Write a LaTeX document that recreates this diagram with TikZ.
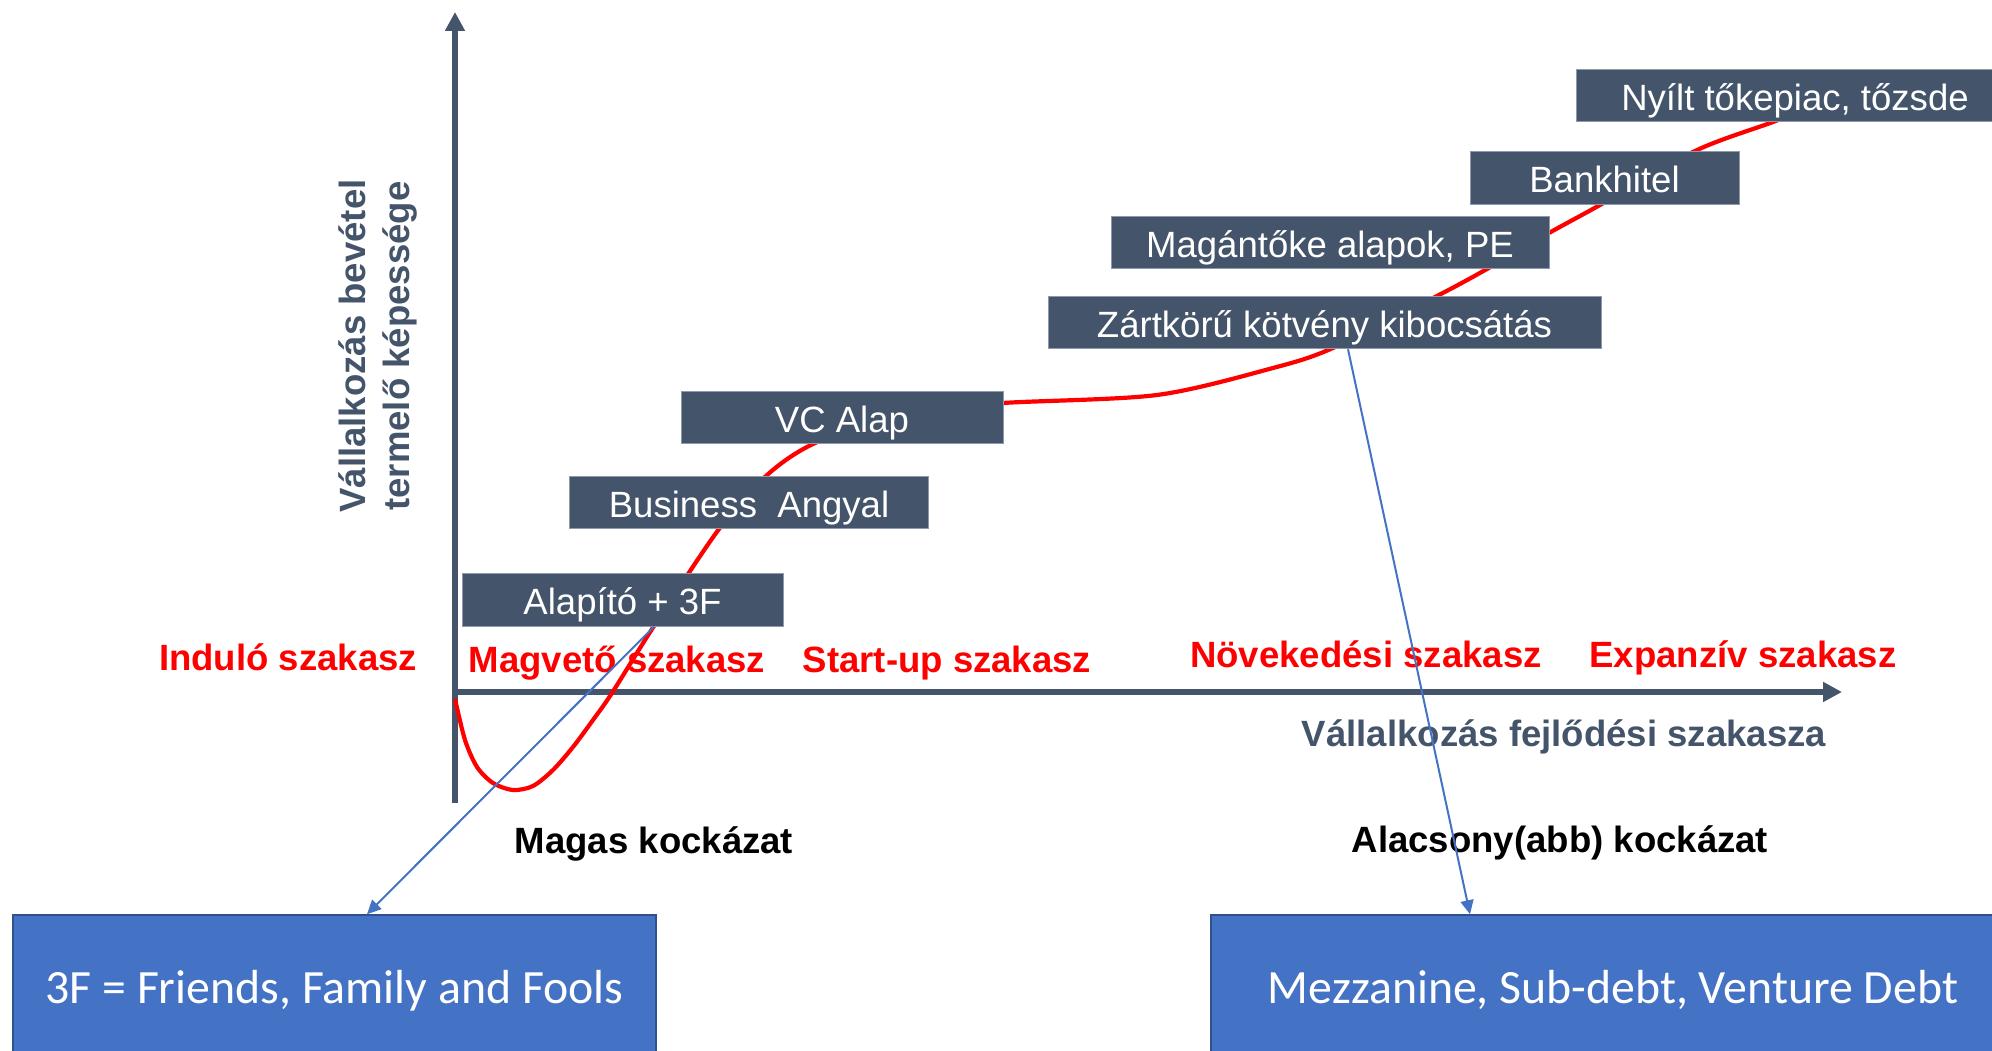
\documentclass[tikz,border=0pt]{standalone}
\usepackage{fontspec}
\setmainfont{Liberation Sans}
\newfontfamily\calibrifont{Carlito}
\usetikzlibrary{arrows.meta}
\definecolor{slate}{HTML}{44546A}
\definecolor{slateline}{HTML}{8E99AB}
\definecolor{offblue}{HTML}{4472C4}
\definecolor{offblueline}{HTML}{2F528F}
\definecolor{stagered}{HTML}{FF0000}

\begin{document}
\begin{tikzpicture}[x=0.1mm, y=-0.1mm,
	axis/.style={slate, line width=0.6mm, -{Triangle[length=1.9mm, width=1.9mm]}},
	source/.style={fill=slate, draw=slateline, line width=0.1mm, text=white, inner sep=0pt, minimum height=5.25mm, text height=8.5pt, text depth=0.2pt, font=\fontsize{10.4}{12.5}\selectfont},
	note/.style={fill=offblue, draw=offblueline, line width=0.15mm, text=white, inner sep=0pt, minimum height=14mm, text height=11pt, text depth=0.2pt, font=\calibrifont\fontsize{13.6}{16}\selectfont},
	stage/.style={anchor=base, text=stagered, font=\bfseries\fontsize{10.4}{12.5}\selectfont},
	risk/.style={anchor=base, font=\bfseries\fontsize{10.4}{12.5}\selectfont},
	link/.style={offblue, line width=0.2mm, -{Triangle[length=1.4mm, width=1.3mm]}}]
	\useasboundingbox (0,0) rectangle (1992,1051);
	
	%axes
	\coordinate (ybot) at (455,803);
	\coordinate (ytop) at (455,12);
	\coordinate (orig) at (455,692);
	\coordinate (xend) at (1842,692);
	\draw[axis] (ybot) -- (ytop);
	\draw[axis] (orig) -- (xend);
	\node[rotate=90, align=center, text=slate, font=\bfseries\fontsize{10.4}{12.6}\selectfont] (ylabel) at (378,346) {Vállalkozás bevétel\\termelő képessége};
	\node[risk, text=slate] (xlabel) at (1564,747) {Vállalkozás fejlődési szakasza};
	
	%growth curve, behind the boxes
	\draw[stagered, line width=0.42mm] plot[smooth, tension=0.5] coordinates {(455,699) (465,740) (477,767) (493,783) (513,790) (533,786) (553,770) (573,747) (593,720) (612,693) (654,626) (719,529) (766,476) (813,444) (900,412) (1003,403) (1157,395) (1273,368) (1333,348) (1437,296) (1487,269) (1549,233) (1600,205) (1695,151) (1773,122) (1840,97)};
	
	%sources of funding
	\node[source, minimum width=32.1mm] (alap) at (622.5,600) {Alapító + 3F};
	\node[source, minimum width=35.9mm] (angyal) at (749,502.5) {Business\ \ Angyal};
	\node[source, minimum width=32.2mm] (vc) at (842,417.5) {VC Alap};
	\node[source, minimum width=55.3mm] (kotveny) at (1324.5,322.5) {Zártkörű kötvény kibocsátás};
	\node[source, minimum width=43.8mm] (magan) at (1330,242.5) {Magántőke alapok, PE};
	\node[source, minimum width=26.9mm] (bank) at (1604.5,178) {Bankhitel};
	\node[source, minimum width=43.8mm] (tozsde) at (1795,95.5) {Nyílt tőkepiac, tőzsde};
	
	%stages along the axis
	\node[stage] (indulo) at (288,671) {Induló szakasz};
	\node[stage] (magveto) at (617,673) {Magvető szakasz};
	\node[stage] (startup) at (947,673) {Start-up szakasz};
	\node[stage] (novek) at (1366,668) {Növekedési szakasz};
	\node[stage] (expanz) at (1743,668) {Expanzív szakasz};
	
	%risk
	\node[risk] (magas) at (654,854) {Magas kockázat};
	\node[risk] (alacsony) at (1560,853) {Alacsony(abb) kockázat};
	
	%explanations
	\node[note, minimum width=64.3mm] (ff) at (334.5,985) {3F = Friends, Family and Fools};
	\node[note, minimum width=80.4mm] (mezz) at (1613,985) {Mezzanine, Sub-debt, Venture Debt};
	\draw[link] ([xshift=3.15mm]alap.south) -- ([xshift=3.25mm]ff.north);
	\draw[link] ([xshift=2.35mm]kotveny.south) -- ([xshift=-14.3mm]mezz.north);
\end{tikzpicture}
\end{document}
